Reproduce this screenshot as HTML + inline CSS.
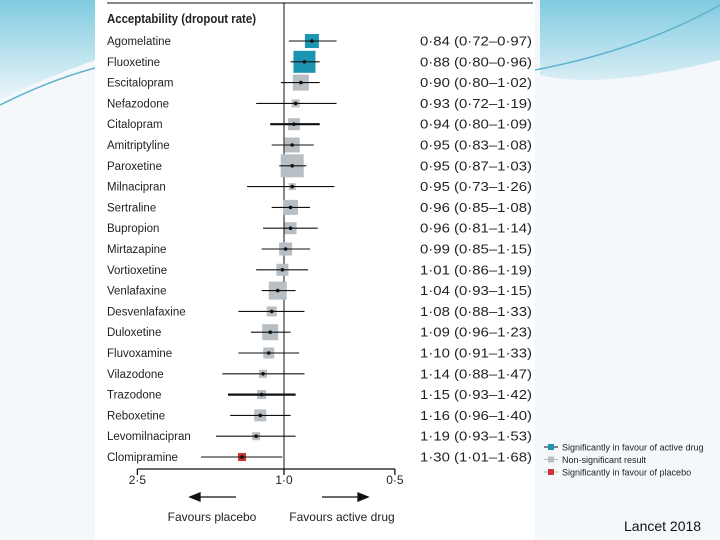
<!DOCTYPE html>
<html><head><meta charset="utf-8"><style>
body{margin:0;width:720px;height:540px;overflow:hidden;background:#f3f7fa;font-family:"Liberation Sans",sans-serif;}
#bg{position:absolute;left:0;top:0;width:720px;height:540px}
svg text{font-family:"Liberation Sans",sans-serif;}
</style></head><body>
<svg id="bg" width="720" height="540">
<defs><linearGradient id="g1" x1="0" y1="0" x2="0" y2="1"><stop offset="0" stop-color="#7fcbe0"/><stop offset="1" stop-color="#eef6fa"/></linearGradient></defs>
<rect x="0" y="0" width="720" height="540" fill="#f5f8fa"/>
<path d="M0 0 H720 V60 Q600 90 540 75 V0 H95 V60 Q40 80 0 100 Z" fill="url(#g1)"/>
<path d="M535 70 Q640 50 720 5" stroke="#5fb4d0" stroke-width="1.5" fill="none"/>
<path d="M0 105 Q50 80 95 68" stroke="#5fb4d0" stroke-width="1.5" fill="none"/>
<rect x="95" y="0" width="440" height="540" fill="#ffffff"/>
<text x="624" y="531" font-size="14" fill="#111">Lancet 2018</text>
</svg>
<svg id="chart" width="720" height="540" style="position:absolute;left:0;top:0"></svg>
<script>
const drugs=["Agomelatine","Fluoxetine","Escitalopram","Nefazodone","Citalopram","Amitriptyline","Paroxetine","Milnacipran","Sertraline","Bupropion","Mirtazapine","Vortioxetine","Venlafaxine","Desvenlafaxine","Duloxetine","Fluvoxamine","Vilazodone","Trazodone","Reboxetine","Levomilnacipran","Clomipramine"];
const orVals=[0.84,0.88,0.90,0.93,0.94,0.95,0.95,0.95,0.96,0.96,0.99,1.01,1.04,1.08,1.09,1.10,1.14,1.15,1.16,1.19,1.30];
const lowVals=[0.72,0.80,0.80,0.72,0.80,0.83,0.87,0.73,0.85,0.81,0.85,0.86,0.93,0.88,0.96,0.91,0.88,0.93,0.96,0.93,1.01];
const highVals=[0.97,0.96,1.02,1.19,1.09,1.08,1.03,1.26,1.08,1.14,1.15,1.19,1.15,1.33,1.23,1.33,1.47,1.42,1.40,1.53,1.68];
const weights=[14,22,16,8,12,15,23,7,15,12,13,12,18,10,16,11,8,9,12,8,8];
const status=["fav","fav","ns","ns","ns","ns","ns","ns","ns","ns","ns","ns","ns","ns","ns","ns","ns","ns","ns","ns","pla"];
const tickVals=[2.5,1.0,0.5];
const tickLabels=["2·5","1·0","0·5"];
const svg=document.getElementById('chart');
const NS="http://www.w3.org/2000/svg";
const xScale=v=>284-160*Math.log(v);
const yScale=i=>41+i*20.8;
const fmt=v=>v.toFixed(2).replace('.','·');
const colors={fav:"#1c95b3",ns:"#b7bec4",pla:"#cc3333"};
function mk(t,a,txt){const e=document.createElementNS(NS,t);for(const k in a)e.setAttribute(k,a[k]);if(txt!=null)e.textContent=txt;svg.appendChild(e);return e;}
let e;
e=mk('line',{x1:107,y1:3,x2:533,y2:3,stroke:"#111","stroke-width":1});

e=mk('text',{x:107,y:23,"font-size":12.5,"font-weight":"bold",fill:"#222",textLength:149,lengthAdjust:"spacingAndGlyphs"},"Acceptability (dropout rate)");

e=mk('line',{x1:284,y1:3,x2:284,y2:469,stroke:"#111","stroke-width":1});

drugs.forEach((d,i)=>{
 const y=yScale(i);
 let t=mk('text',{x:107,y:y+4,"font-size":11.5,fill:"#222"},d);
 
 const w=weights[i];
 let r=mk('rect',{x:xScale(orVals[i])-w/2,y:y-w/2,width:w,height:w,fill:colors[status[i]]});
 
 const thick=(d==="Citalopram"||d==="Trazodone")?2.2:1.1;
 let l=mk('line',{x1:xScale(lowVals[i]),y1:y,x2:xScale(highVals[i]),y2:y,stroke:"#111","stroke-width":thick});
 
 let c=mk('circle',{cx:xScale(orVals[i]),cy:y,r:1.8,fill:"#111"});
 
 let v=mk('text',{x:420,y:y+4.5,"font-size":13,fill:"#222",textLength:112,lengthAdjust:"spacingAndGlyphs"},`${fmt(orVals[i])} (${fmt(lowVals[i])}–${fmt(highVals[i])})`);
 
});
e=mk('line',{x1:xScale(2.5),y1:469,x2:xScale(0.5),y2:469,stroke:"#111","stroke-width":1.3});

tickVals.forEach((v,i)=>{
 let t=mk('line',{x1:xScale(v),y1:469,x2:xScale(v),y2:475,stroke:"#111","stroke-width":1.3});
 
 let l=mk('text',{x:xScale(v),y:484,"font-size":12,fill:"#222","text-anchor":"middle"},tickLabels[i]);
 
});
e=mk('path',{d:"M236 497 H200 M190 497 l10 -4 v8 z",stroke:"#111","stroke-width":1.3,fill:"#111"});

e=mk('path',{d:"M322 497 H358 M368 497 l-10 -4 v8 z",stroke:"#111","stroke-width":1.3,fill:"#111"});

e=mk('text',{x:212,y:521,"font-size":12,fill:"#222","text-anchor":"middle"},"Favours placebo");

e=mk('text',{x:342,y:521,"font-size":12,fill:"#222","text-anchor":"middle"},"Favours active drug");

const legendLabels=["Significantly in favour of active drug","Non-significant result","Significantly in favour of placebo"];
const legendKeys=["fav","ns","pla"];
legendLabels.forEach((s,i)=>{
 const y=447+i*12.5;
 let l=mk('line',{x1:544,y1:y,x2:558,y2:y,stroke:legendKeys[i]==="fav"?"#111":"#bbb","stroke-width":1});
 
 let r=mk('rect',{x:548,y:y-3,width:6,height:6,fill:colors[legendKeys[i]]});
 
 let t=mk('text',{x:562,y:y+3.5,"font-size":9,fill:"#222"},s);
 
});
</script>
</body></html>
